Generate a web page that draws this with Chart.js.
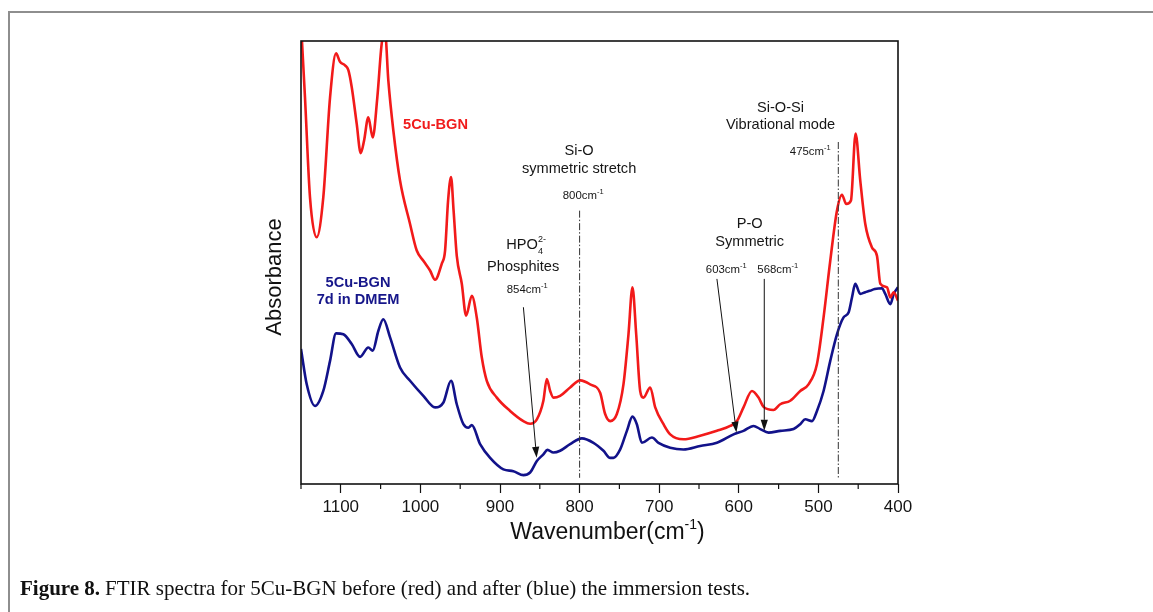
<!DOCTYPE html>
<html>
<head>
<meta charset="utf-8">
<script src="https://cdn.jsdelivr.net/npm/chart.js@4.4.0/dist/chart.umd.min.js"></script>
<style>
  html, body { margin: 0; padding: 0; background: #ffffff; }
  #wrap { position: relative; width: 1153px; height: 612px; }
</style>
</head>
<body>
<div id="wrap"><canvas id="ftir" width="1153" height="612"></canvas></div>
<script>
// FTIR spectrum of 5Cu-BGN as prepared (wavenumber in cm-1, absorbance in a.u.)
const redWavenumber = [1150, 1145.0, 1138.7, 1130.3, 1122.0, 1113.5, 1106.0, 1101.0, 1094.7, 1090.5,
  1086.3, 1080.0, 1075.0, 1070.8, 1065.4, 1059.9, 1054.1, 1048.6, 1044.4, 1040.3,
  1034.0, 1025.6, 1013.0, 1004.6, 996.3, 987.9, 981.6, 973.2, 969.0, 965.2,
  961.5, 958.3, 954.3, 948.0, 942.6, 935.4, 929.2, 922.9, 916.6, 904.0,
  887.3, 870.6, 862.2, 853.7, 845.5, 841.2, 837.0, 832.9, 824.5, 811.9,
  799.3, 786.8, 774.2, 767.9, 761.6, 753.2, 744.9, 738.6, 733.6, 728.9,
  723.9, 719.8, 711.3, 705.0, 694.6, 686.2, 669.5, 648.5, 627.5, 610.8,
  602.4, 594.1, 583.5, 575.2, 568.9, 556.4, 547.9, 535.4, 522.8, 512.4,
  501.8, 493.5, 485.1, 476.7, 470.4, 465.0, 459.1, 453.3, 447.4, 441.1,
  432.7, 426.4, 422.2, 413.8, 409.6, 405.4, 400];
const redAbsorbance = [104, 87.3, 64.7, 55.7, 64.7, 87.3, 97.2, 95.3, 94.5, 93.4,
  89.6, 81.3, 74.7, 77.5, 82.8, 78.2, 87.3, 99.4, 102, 91.1,
  79.8, 68.5, 58.7, 52.7, 50.4, 48.2, 46.1, 49.7, 52.7, 64.0,
  69.3, 61.7, 51.5, 45.2, 38.0, 42.5, 37.6, 28.6, 23.3, 19.5,
  16.5, 14.2, 13.6, 14.6, 18.8, 23.7, 21.0, 19.5, 19.9, 21.8,
  23.4, 22.5, 20.6, 15.8, 14.2, 15.8, 22.5, 33.8, 44.4, 33.8,
  21.0, 19.5, 21.8, 17.3, 13.5, 11.2, 10.1, 10.9, 12.0, 13.1,
  14.2, 17.3, 21.0, 19.5, 17.4, 16.7, 18.0, 18.8, 21.0, 22.5,
  27.1, 37.6, 50.4, 61.7, 65.3, 63.2, 64.0, 79.1, 68.5, 58.7,
  53.4, 51.5, 45.2, 44.4, 42.1, 43.3, 41.4];

// FTIR spectrum of 5Cu-BGN after 7 days in DMEM
const blueWavenumber = [1150, 1142.8, 1132.4, 1122.0, 1113.5, 1106.0, 1096.8, 1086.3, 1075.8, 1065.4,
  1059.9, 1052.8, 1046.6, 1038.1, 1025.6, 1013.0, 996.3, 981.6, 971.1, 961.5,
  954.3, 946.0, 939.7, 935.4, 925.0, 912.4, 895.7, 883.2, 870.6, 862.2,
  853.7, 845.5, 840.4, 832.9, 824.5, 811.9, 797.2, 782.6, 770.0, 761.6,
  757.5, 749.0, 740.6, 733.6, 728.1, 721.8, 709.2, 700.9, 686.2, 669.5,
  648.5, 627.5, 606.6, 594.1, 581.5, 573.1, 562.6, 547.9, 531.2, 522.8,
  516.5, 508.1, 501.8, 493.5, 485.1, 476.7, 468.4, 462.1, 457.8, 453.7,
  447.4, 441.1, 435.5, 429.2, 420.1, 416.0, 409.6, 405.4, 400];
const blueAbsorbance = [30.5, 22.5, 17.6, 21.0, 27.8, 34.0, 33.8, 31.6, 28.7, 30.8,
  30.1, 34.6, 37.2, 33.1, 26.3, 23.3, 19.9, 17.3, 18.4, 23.3,
  18.0, 13.5, 12.7, 13.3, 9.0, 5.9, 3.3, 2.9, 2.0, 2.6,
  5.2, 6.7, 7.7, 7.1, 7.5, 9.0, 10.3, 9.3, 7.5, 5.9,
  5.9, 7.8, 12.0, 15.2, 13.5, 9.3, 10.5, 9.3, 8.2, 7.8,
  8.6, 9.3, 11.2, 12.0, 13.1, 12.4, 11.6, 12.0, 12.4, 13.5,
  14.6, 14.2, 16.5, 21.0, 27.8, 33.8, 37.6, 38.7, 42.1, 45.2,
  42.9, 43.3, 43.6, 44.0, 44.2, 42.9, 40.6, 42.9, 44.4];

// axis ticks (cm-1)
const majorTicks = [1100, 1000, 900, 800, 700, 600, 500, 400];
const minorTicks = [1150, 1050, 950, 850, 750, 650, 550, 450];

// assigned bands
const bandLines = [800, 475];          // dash-dot reference lines
const arrowBands = [854, 603, 568];    // arrow tips

const SANS = '"Liberation Sans", Arial, sans-serif';
const SERIF = '"Liberation Serif", "Times New Roman", serif';

const toPoints = (xs, ys) => xs.map((x, i) => ({ x: x, y: ys[i] }));

// draw a sequence of text runs; each run: {t, size, dy, weight} or {stack:[run, run]}
function drawRuns(ctx, list, cx, cy, color, align) {
  ctx.save();
  ctx.fillStyle = color;
  ctx.textBaseline = 'alphabetic';
  const fontOf = r => `${r.weight || 'normal'} ${r.size}px ${SANS}`;
  const widths = list.map(r => {
    if (r.stack) {
      return Math.max(...r.stack.map(q => { ctx.font = fontOf(q); return ctx.measureText(q.t).width; }));
    }
    ctx.font = fontOf(r);
    return ctx.measureText(r.t).width;
  });
  const total = widths.reduce((a, b) => a + b, 0);
  let x = align === 'left' ? cx : cx - total / 2;
  ctx.textAlign = 'left';
  list.forEach((r, i) => {
    const parts = r.stack ? r.stack : [r];
    parts.forEach(q => {
      ctx.font = fontOf(q);
      ctx.fillText(q.t, x, cy + (q.dy || 0));
    });
    x += widths[i];
  });
  ctx.restore();
}

function arrow(ctx, x1, y1, x2, y2) {
  const ang = Math.atan2(y2 - y1, x2 - x1);
  const len = 11, half = 3.6;
  const bx = x2 - len * Math.cos(ang), by = y2 - len * Math.sin(ang);
  ctx.save();
  ctx.strokeStyle = '#111';
  ctx.fillStyle = '#111';
  ctx.lineWidth = 1;
  ctx.beginPath();
  ctx.moveTo(x1, y1);
  ctx.lineTo(bx, by);
  ctx.stroke();
  ctx.beginPath();
  ctx.moveTo(x2, y2);
  ctx.lineTo(bx + half * Math.sin(ang), by - half * Math.cos(ang));
  ctx.lineTo(bx - half * Math.sin(ang), by + half * Math.cos(ang));
  ctx.closePath();
  ctx.fill();
  ctx.restore();
}

const figureDecor = {
  id: 'figureDecor',
  beforeDraw(chart) {
    const c = chart.ctx;
    c.save();
    c.strokeStyle = '#8e8e8e';
    c.lineWidth = 2;
    c.beginPath();
    c.moveTo(9, 614);
    c.lineTo(9, 12);
    c.lineTo(1155, 12);
    c.stroke();
    c.restore();
  },
  afterDraw(chart) {
    const c = chart.ctx;
    const xs = chart.scales.x, ys = chart.scales.y;
    const a = chart.chartArea;
    const X = v => xs.getPixelForValue(v);
    const Y = v => ys.getPixelForValue(v);

    // plot frame
    c.save();
    c.strokeStyle = '#111';
    c.lineWidth = 1.6;
    c.strokeRect(a.left, a.top, a.right - a.left, a.bottom - a.top);
    // minor ticks
    c.lineWidth = 1.2;
    c.beginPath();
    minorTicks.forEach(v => { const px = X(v); c.moveTo(px, a.bottom); c.lineTo(px, a.bottom + 5); });
    c.stroke();
    c.restore();

    // dash-dot band lines
    c.save();
    c.strokeStyle = '#333';
    c.lineWidth = 1;
    c.setLineDash([7, 2, 1.5, 2]);
    c.beginPath();
    c.moveTo(X(bandLines[0]), Y(61.7)); c.lineTo(X(bandLines[0]), Y(1.4));
    c.moveTo(X(bandLines[1]), Y(77.2)); c.lineTo(X(bandLines[1]), Y(1.1));
    c.stroke();
    c.restore();

    // arrows to the phosphate bands
    arrow(c, X(870.6), Y(39.9), X(arrowBands[0]), Y(5.9));
    arrow(c, X(627.5), Y(46.3), X(arrowBands[1]), Y(11.6));
    arrow(c, X(arrowBands[2]), Y(46.3), X(arrowBands[2]), Y(12.0));

    const K = '#161616';
    const big = 14.6, small = 11.4, sup = 7.5;
    const wn = (t, cx, cy) => drawRuns(c, [{ t: t, size: small }, { t: '-1', size: sup, dy: -5 }], cx, cy, K);

    // series labels
    drawRuns(c, [{ t: '5Cu-BGN', size: 14.6, weight: 'bold' }], X(981), Y(81.2) + 5, '#f01c1c');
    drawRuns(c, [{ t: '5Cu-BGN', size: 14.6, weight: 'bold' }], X(1078.4), Y(45.7) + 5, '#16168a');
    drawRuns(c, [{ t: '7d in DMEM', size: 14.6, weight: 'bold' }], X(1078.4), Y(41.7) + 5, '#16168a');

    // Si-O symmetric stretch
    drawRuns(c, [{ t: 'Si-O', size: big }], X(800.6), Y(75.4) + 5, K);
    drawRuns(c, [{ t: 'symmetric stretch', size: big }], X(800.6), Y(71.4) + 5, K);
    wn('800cm', X(795.5), Y(65.3) + 4);

    // HPO4 2- phosphites
    drawRuns(c, [{ t: 'HPO', size: big }, { stack: [{ t: '2-', size: 9, dy: -7 }, { t: '4', size: 9, dy: 5 }] }], X(867.2), Y(54.2) + 5, K);
    drawRuns(c, [{ t: 'Phosphites', size: big }], X(870.9), Y(49.1) + 5, K);
    wn('854cm', X(865.9), Y(44.0) + 4);

    // Si-O-Si vibrational mode
    drawRuns(c, [{ t: 'Si-O-Si', size: big }], X(547.6), Y(85.2) + 5, K);
    drawRuns(c, [{ t: 'Vibrational mode', size: big }], X(547.6), Y(81.3) + 5, K);
    wn('475cm', X(510.2), Y(75.1) + 4);

    // P-O symmetric
    drawRuns(c, [{ t: 'P-O', size: big }], X(586.3), Y(58.9) + 5, K);
    drawRuns(c, [{ t: 'Symmetric', size: big }], X(586.3), Y(54.8) + 5, K);
    wn('603cm', X(615.8), Y(48.5) + 4);
    wn('568cm', X(551.1), Y(48.5) + 4);

    // axis titles
    drawRuns(c, [{ t: 'Wavenumber(cm', size: 23 }, { t: '-1', size: 14, dy: -10 }, { t: ')', size: 23 }],
      (a.left + a.right) / 2 + 8, a.bottom + 55, '#111');
    c.save();
    c.translate(a.left - 20, a.top + 236);
    c.rotate(-Math.PI / 2);
    drawRuns(c, [{ t: 'Absorbance', size: 22 }], 0, 0, '#111');
    c.restore();

    // caption
    c.save();
    c.fillStyle = '#111';
    c.textBaseline = 'alphabetic';
    c.textAlign = 'left';
    c.font = `bold 21px ${SERIF}`;
    c.fillText('Figure 8.', 20, 595);
    const w = c.measureText('Figure 8.').width;
    c.font = `21px ${SERIF}`;
    c.fillText('FTIR spectra for 5Cu-BGN before (red) and after (blue) the immersion tests.', 20 + w + 5, 595);
    c.restore();
  }
};

new Chart(document.getElementById('ftir'), {
  type: 'line',
  data: {
    datasets: [
      {
        label: '5Cu-BGN',
        data: toPoints(redWavenumber, redAbsorbance),
        borderColor: '#f21a1a',
        borderWidth: 2.6,
        pointRadius: 0,
        cubicInterpolationMode: 'monotone',
        clip: 0
      },
      {
        label: '5Cu-BGN 7d in DMEM',
        data: toPoints(blueWavenumber, blueAbsorbance),
        borderColor: '#12128a',
        borderWidth: 2.6,
        pointRadius: 0,
        cubicInterpolationMode: 'monotone',
        clip: 0
      }
    ]
  },
  options: {
    responsive: false,
    animation: false,
    events: [],
    layout: { padding: { left: 301, right: 255, top: 41, bottom: 68 } },
    plugins: { legend: { display: false }, tooltip: { enabled: false }, title: { display: false } },
    scales: {
      x: {
        type: 'linear',
        reverse: true,
        min: 400,
        max: 1150,
        afterBuildTicks: s => { s.ticks = majorTicks.map(v => ({ value: v })); },
        afterFit: s => { s.height = 60; s.paddingLeft = 0; s.paddingRight = 0; },
        ticks: {
          autoSkip: false,
          maxRotation: 0,
          padding: 4,
          color: '#141414',
          font: { family: SANS, size: 17 },
          callback: v => String(v)
        },
        grid: { display: true, drawOnChartArea: false, drawTicks: true, tickLength: 9, color: '#111', tickColor: '#111', tickWidth: 1.2 },
        border: { display: false }
      },
      y: {
        min: 0,
        max: 100,
        ticks: { display: false },
        grid: { display: false, drawTicks: false },
        border: { display: false },
        afterFit: s => { s.width = 0; }
      }
    }
  },
  plugins: [figureDecor]
});
</script>
</body>
</html>
